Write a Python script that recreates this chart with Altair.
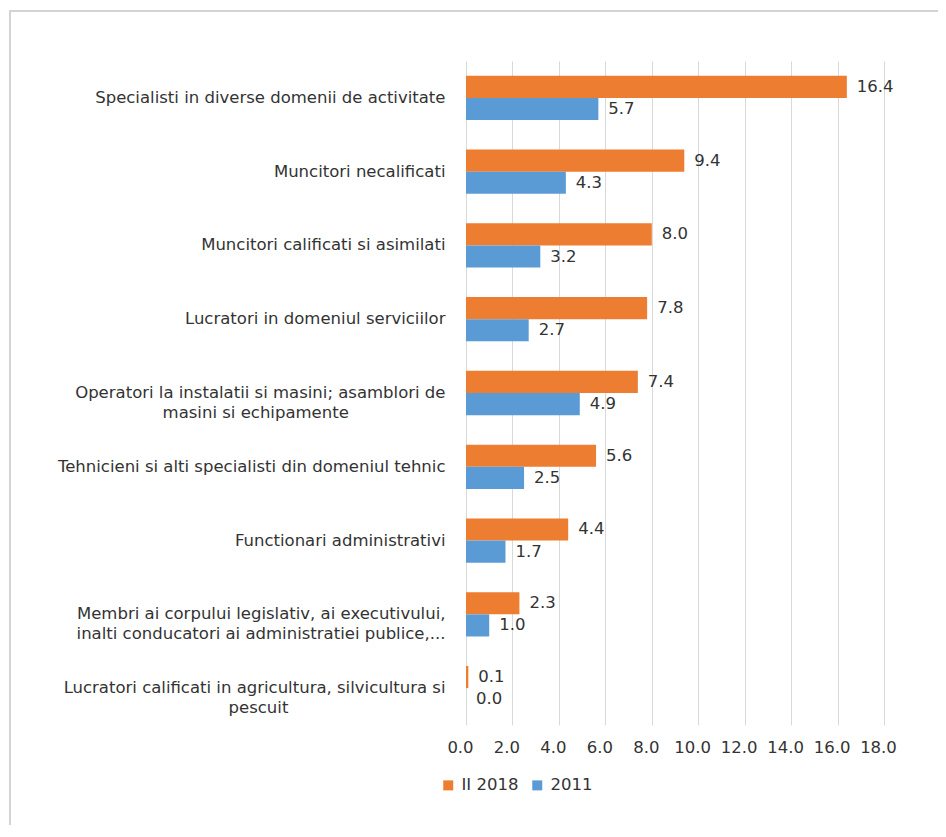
import altair as alt
import pandas as pd

# ---- data ----
categories = [
    "Specialisti in diverse domenii de activitate",
    "Muncitori necalificati",
    "Muncitori calificati si asimilati",
    "Lucratori in domeniul serviciilor",
    "Operatori la instalatii si masini; asamblori de|masini si echipamente",
    "Tehnicieni si alti specialisti din domeniul tehnic",
    "Functionari administrativi",
    "Membri ai corpului legislativ, ai executivului,|inalti conducatori ai administratiei publice,...",
    "Lucratori calificati in agricultura, silvicultura si|pescuit",
]
values_2018 = [16.4, 9.4, 8.0, 7.8, 7.4, 5.6, 4.4, 2.3, 0.1]
values_2011 = [5.7, 4.3, 3.2, 2.7, 4.9, 2.5, 1.7, 1.0, 0.0]
series = ["II 2018", "2011"]
colors = ["#ED7D31", "#5B9BD5"]
x_ticks = [0, 2, 4, 6, 8, 10, 12, 14, 16, 18]

# invisible padding so that second lines look centred (as in Excel)
PAD = "\u2800"
second_line_pad = {4: 8, 7: 0, 8: 13}

rows = []
for i, c in enumerate(categories):
    for s, vals in zip(series, [values_2018, values_2011]):
        rows.append({"category": c, "series": s, "value": vals[i]})
df = pd.DataFrame(rows)

label_map = {}
for i, c in enumerate(categories):
    if "|" in c:
        a, b = c.split("|")
        label_map[c] = a + "|" + b + PAD * second_line_pad.get(i, 0)
    else:
        label_map[c] = c
df["label"] = df["category"].map(label_map)
label_order = [label_map[c] for c in categories]

FONT = "DejaVu Sans"
FS = 16.5
TXT = "#333333"

y_enc = alt.Y(
    "label:N",
    sort=label_order,
    title=None,
    scale=alt.Scale(paddingInner=0.4, paddingOuter=0.2),
    axis=alt.Axis(
        labelExpr="split(datum.label, '|')",
        labelFontSize=FS,
        labelFont=FONT,
        labelColor=TXT,
        labelLimit=500,
        labelPadding=21,
        labelLineHeight=20,
        ticks=False,
        domain=False,
        grid=False,
    ),
)
x_enc = alt.X(
    "value:Q",
    title=None,
    scale=alt.Scale(domain=[0, 18], nice=False),
    axis=alt.Axis(
        values=x_ticks,
        format=".1f",
        labelFontSize=FS,
        labelFont=FONT,
        labelColor=TXT,
        labelPadding=14,
        labelOffset=-6,
        labelOverlap=False,
        labelFlush=False,
        ticks=False,
        domain=False,
        grid=True,
        gridColor="#d9d9d9",
        gridWidth=1,
    ),
)
yoff = alt.YOffset("series:N", sort=series)
color_enc = alt.Color(
    "series:N",
    sort=series,
    scale=alt.Scale(domain=series, range=colors),
    legend=alt.Legend(
        title=None,
        orient="none",
        legendX=-26,
        legendY=716,
        direction="horizontal",
        symbolType="square",
        symbolSize=100,
        symbolStrokeWidth=0,
        labelFontSize=FS,
        labelFont=FONT,
        labelColor=TXT,
        columnPadding=10,
        labelOffset=5,
    ),
)

base = alt.Chart(df)

bars = base.mark_bar().encode(x=x_enc, y=y_enc, yOffset=yoff, color=color_enc)

labels = base.mark_text(
    align="left", baseline="middle", dx=10, fontSize=FS, font=FONT, color=TXT
).encode(
    x="value:Q",
    y=alt.Y("label:N", sort=label_order),
    yOffset=yoff,
    text=alt.Text("value:Q", format=".1f"),
)

frame = alt.Chart(pd.DataFrame({"k": [0]})).mark_rect(
    fillOpacity=0, stroke="#d4d4d4", strokeWidth=2
).encode(
    x=alt.value(-456), x2=alt.value(600), y=alt.value(-50), y2=alt.value(900)
)

chart = (
    alt.layer(frame, bars, labels)
    .properties(
        width=418,
        height=664,
        autosize=alt.AutoSizeParams(type="none"),
        padding={"left": 458, "top": 53, "right": 54, "bottom": 100},
        background="white",
    )
    .configure_view(strokeWidth=0)
)

chart.save("out.html", embed_options={"renderer": "svg", "actions": False})
